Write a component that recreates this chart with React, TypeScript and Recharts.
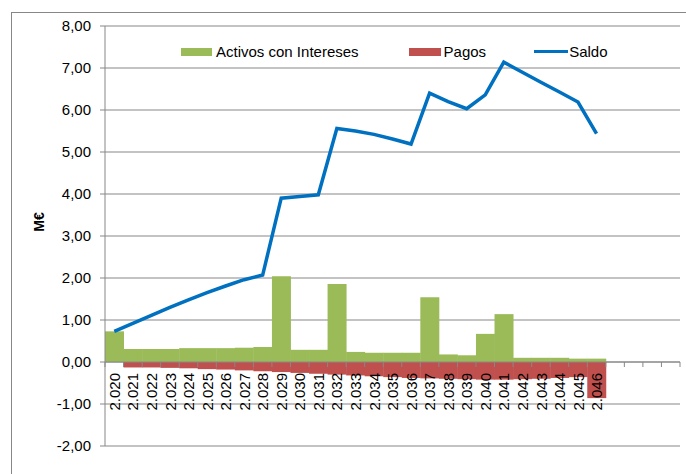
import {
  ComposedChart,
  Bar,
  Line,
  XAxis,
  YAxis,
  CartesianGrid,
  ReferenceLine,
  LabelList,
} from "recharts";

const years = [
  2020, 2021, 2022, 2023, 2024, 2025, 2026, 2027, 2028, 2029, 2030, 2031,
  2032, 2033, 2034, 2035, 2036, 2037, 2038, 2039, 2040, 2041, 2042, 2043,
  2044, 2045, 2046, 2047, 2048, 2049, 2050,
];

// years after 2046 are empty slots on the axis
const lastYear = 2046;

const activos = [
  0.73, 0.31, 0.31, 0.31, 0.33, 0.33, 0.33, 0.34, 0.36, 2.04, 0.29, 0.29,
  1.86, 0.24, 0.22, 0.22, 0.22, 1.54, 0.18, 0.16, 0.67, 1.14, 0.1, 0.1, 0.1,
  0.08, 0.08,
];

const pagos = [
  0, -0.13, -0.13, -0.14, -0.15, -0.17, -0.18, -0.2, -0.22, -0.24, -0.26,
  -0.28, -0.3, -0.32, -0.34, -0.36, -0.38, -0.39, -0.4, -0.41, -0.42, -0.42,
  -0.41, -0.4, -0.38, -0.36, -0.86,
];

const saldo = [
  0.73, 0.92, 1.11, 1.3, 1.48, 1.65, 1.81, 1.96, 2.07, 3.9, 3.94, 3.98, 5.56,
  5.5, 5.42, 5.31, 5.19, 6.4, 6.2, 6.03, 6.36, 7.14, 6.9, 6.66, 6.43, 6.19,
  5.44,
];

const yTicks = [-2, -1, 0, 1, 2, 3, 4, 5, 6, 7, 8];

const seriesNames = ["Activos con Intereses", "Pagos", "Saldo"];
const GREEN = "#9BBB59";
const RED = "#C0504D";
const BLUE = "#0070C0";
const GRID = "#878787";
const FONT = '"Liberation Sans", Arial, sans-serif';

const W = 686;
const H = 474;
const PLOT_LEFT = 105;
const PLOT_RIGHT = 680;
const PLOT_TOP = 26;
const PLOT_BOTTOM = 446;

const data = years.map((y, i) => ({
  year: y,
  label: y <= lastYear ? `${String(y)[0]}.${String(y).slice(1)}` : "",
  activos: i < activos.length ? activos[i] : null,
  pagos: i < pagos.length ? pagos[i] : null,
  saldo: i < saldo.length ? saldo[i] : null,
}));

const yMin = yTicks[0];
const yMax = yTicks[yTicks.length - 1];
const zeroY =
  PLOT_TOP + ((PLOT_BOTTOM - PLOT_TOP) * (yMax - 0)) / (yMax - yMin);
const band = (PLOT_RIGHT - PLOT_LEFT) / years.length;

// tick marks sit on the zero line, between categories
function YearTick(props: any) {
  const { x, index } = props;
  return (
    <g>
      <line
        x1={x - band / 2}
        x2={x - band / 2}
        y1={zeroY}
        y2={zeroY + 5}
        stroke={GRID}
      />
      {index === years.length - 1 && (
        <line
          x1={x + band / 2}
          x2={x + band / 2}
          y1={zeroY}
          y2={zeroY + 5}
          stroke={GRID}
        />
      )}
    </g>
  );
}

// year labels drawn on top of the bars
function YearLabel(props: any) {
  const { x, width, value } = props;
  if (!value) return null;
  const cx = Number(x) + Number(width) / 2;
  const ty = zeroY + 11;
  return (
    <text
      x={cx}
      y={ty}
      transform={`rotate(-90, ${cx}, ${ty})`}
      textAnchor="end"
      dy="0.36em"
      fontSize={15}
      fontFamily={FONT}
      fill="#000"
    >
      {value}
    </text>
  );
}

export default function App() {
  return (
    <div
      style={{
        position: "absolute",
        left: 0,
        top: 0,
        width: W,
        height: H,
        overflow: "hidden",
        background: "#fff",
        fontFamily: FONT,
      }}
    >
      <div
        style={{
          position: "absolute",
          left: 11,
          top: 12,
          width: 720,
          height: 520,
          border: `1px solid ${GRID}`,
        }}
      />

      <div style={{ position: "absolute", left: 0, top: 0 }}>
        <ComposedChart
          width={W}
          height={H}
          data={data}
          stackOffset="sign"
          barCategoryGap={0}
          barGap={0}
          margin={{
            top: PLOT_TOP,
            right: W - PLOT_RIGHT,
            bottom: 0,
            left: 0,
          }}
        >
          <CartesianGrid vertical={false} stroke={GRID} />
          <XAxis
            dataKey="year"
            type="category"
            height={H - PLOT_BOTTOM}
            axisLine={false}
            tickLine={false}
            interval={0}
            tick={(p: any) => <YearTick {...p} />}
          />
          <YAxis
            width={PLOT_LEFT}
            domain={[yMin, yMax]}
            ticks={yTicks}
            allowDataOverflow
            stroke={GRID}
            tickSize={5}
            tickMargin={9}
            tick={{ fontSize: 15, fill: "#000", fontFamily: FONT }}
            tickFormatter={(v: number) => v.toFixed(2).replace(".", ",")}
          />
          <Bar
            dataKey="activos"
            stackId="s"
            fill={GREEN}
            name={seriesNames[0]}
            isAnimationActive={false}
          >
            <LabelList
              dataKey="label"
              content={(p: any) => <YearLabel {...p} />}
            />
          </Bar>
          <Bar
            dataKey="pagos"
            stackId="s"
            fill={RED}
            name={seriesNames[1]}
            isAnimationActive={false}
          />
          <ReferenceLine y={0} stroke={GRID} />
          <Line
            type="linear"
            dataKey="saldo"
            stroke={BLUE}
            strokeWidth={3.5}
            dot={false}
            name={seriesNames[2]}
            isAnimationActive={false}
          />
        </ComposedChart>
      </div>

      <div
        style={{
          position: "absolute",
          left: 39,
          top: 222,
          transform: "translate(-50%, -50%) rotate(-90deg)",
          fontWeight: "bold",
          fontSize: 14,
          color: "#000",
        }}
      >
        M€
      </div>

      <div
        style={{
          position: "absolute",
          left: 181,
          top: 43,
          display: "flex",
          alignItems: "center",
          fontSize: 15,
          color: "#000",
          whiteSpace: "nowrap",
        }}
      >
        <span style={{ width: 31, height: 8, background: GREEN }} />
        <span style={{ marginLeft: 4 }}>{seriesNames[0]}</span>
        <span
          style={{ width: 32, height: 8, background: RED, marginLeft: 50 }}
        />
        <span style={{ marginLeft: 3 }}>{seriesNames[1]}</span>
        <span
          style={{ width: 34, height: 3, background: BLUE, marginLeft: 48 }}
        />
        <span style={{ marginLeft: 1 }}>{seriesNames[2]}</span>
      </div>
    </div>
  );
}
